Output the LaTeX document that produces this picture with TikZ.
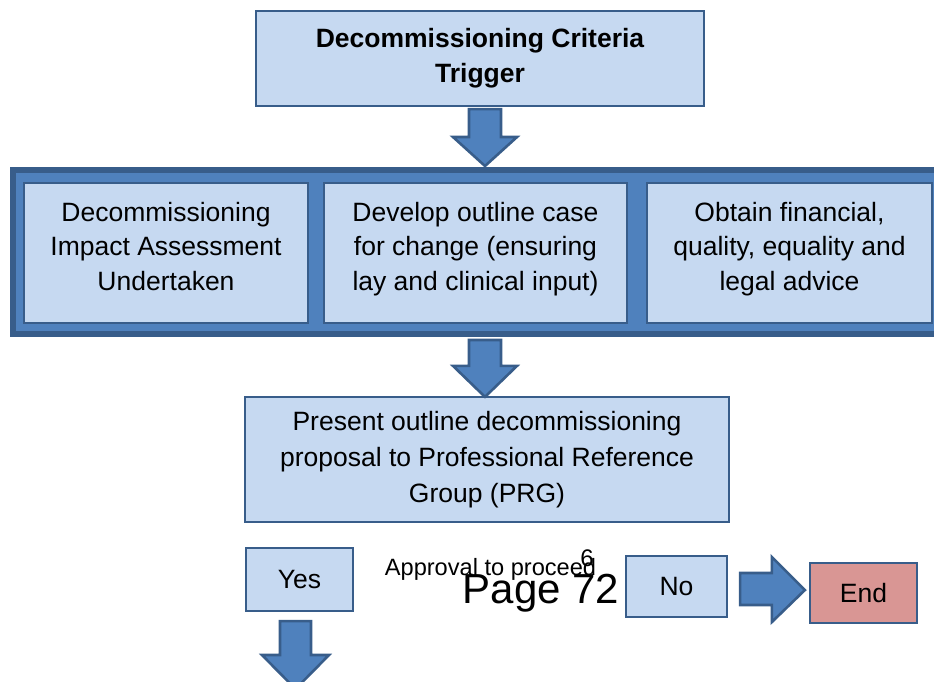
\documentclass[tikz,border=0pt]{standalone}
\usepackage{fontspec}
\setmainfont{Liberation Sans}
\usetikzlibrary{calc}
\definecolor{boxfill}{HTML}{C6D9F1}
\definecolor{boxline}{HTML}{385D8A}
\definecolor{midblue}{HTML}{4F81BD}
\definecolor{endfill}{HTML}{D99694}
\begin{document}
\begin{tikzpicture}[x=1pt,y=-1pt,
  box/.style={draw=boxline, fill=boxfill, line width=2.2pt, rectangle, inner sep=0pt},
  bandbox/.style={draw=boxline, fill=midblue, line width=6pt, rectangle, inner sep=0pt},
  fatarrow/.style={draw=boxline, fill=midblue, line width=2.6pt, line join=miter},
  txt/.style={align=center, inner sep=0pt, font=\fontsize{26.5}{34.5}\selectfont},
  bigtxt/.style={align=center, inner sep=0pt, font=\fontsize{26.5}{35}\selectfont\bfseries},
  midtxt/.style={align=center, inner sep=0pt, font=\fontsize{26.5}{36}\selectfont}]
\useasboundingbox (0,0) rectangle (934,681);

% trigger box
\node[box, bigtxt, minimum width=448, minimum height=95] (top) at (480,58.5)
  {Decommissioning Criteria\\Trigger};

% band holding the three parallel activities
\node[bandbox, minimum width=930, minimum height=164] (stage) at (478,252) {};
\node[box, minimum width=284, minimum height=140] (imp) at (166,253) {};
\node[box, minimum width=303, minimum height=140] (dev) at (475.5,253) {};
\node[box, minimum width=285, minimum height=140] (adv) at (789.5,253) {};
\node[txt] (impt) at (166,246.5) {Decommissioning\\Impact Assessment\\Undertaken};
\node[txt] (devt) at (475.5,249) {Develop outline case\\for change (ensuring\\lay and clinical input)};
\node[txt] (advt) at (789.5,249) {Obtain financial,\\quality, equality and\\legal advice};

% proposal box
\node[box, midtxt, minimum width=484, minimum height=125] (present) at (487,459.5)
  {Present outline decommissioning\\proposal to Professional Reference\\Group (PRG)};

% outcome boxes
\node[box, txt, minimum width=107, minimum height=63] (yes) at (299.5,579.5) {Yes};
\node[box, txt, minimum width=101, minimum height=61] (no) at (676.5,586.5) {No};
\node[box, txt, fill=endfill, minimum width=107, minimum height=60] (end) at (863.5,593) {End};

% loose texts
\node[anchor=base, inner sep=0pt, font=\fontsize{23.6}{23.6}\selectfont] (appr) at (490.5,575) {Approval to proceed};
\node[anchor=base, inner sep=0pt, font=\fontsize{24}{24}\selectfont] (pnum) at (587,566) {6};
\node[anchor=base, inner sep=0pt, font=\fontsize{42}{42}\selectfont] (page) at (541,603) {Page 72};

% block arrows
\draw[fatarrow] let \p1=(top.south), \p2=(stage.north) in
  (\x1-11pt,\y1-2pt) -- (\x1+21pt,\y1-2pt) -- (\x1+21pt,\y2+30pt) -- (\x1+37pt,\y2+30pt)
  -- (\x1+5pt,\y2+1pt) -- (\x1-27pt,\y2+30pt) -- (\x1-11pt,\y2+30pt) -- cycle;
\draw[fatarrow] let \p1=(stage.south), \p2=(present.north) in
  (\x1-9pt,\y1-3pt) -- (\x1+23pt,\y1-3pt) -- (\x1+23pt,\y2+30pt) -- (\x1+39pt,\y2+30pt)
  -- (\x1+7pt,\y2-1pt) -- (\x1-25pt,\y2+30pt) -- (\x1-9pt,\y2+30pt) -- cycle;
\draw[fatarrow] let \p1=(no.east), \p2=(end.west) in
  (\x1+12pt,\y2+20pt) -- (\x2-37pt,\y2+20pt) -- (\x2-37pt,\y2+36pt)
  -- (\x2-4pt,\y2+3pt) -- (\x2-37pt,\y2-29pt) -- (\x2-37pt,\y2-12pt) -- (\x1+12pt,\y2-12pt) -- cycle;
\coordinate (below) at (295.5,689);
\draw[fatarrow] let \p1=(yes.south), \p2=(below) in
  (\x2-15.5pt,\y1-9pt) -- (\x2+15.5pt,\y1-9pt) -- (\x2+15.5pt,\y2+34pt) -- (\x2+33.5pt,\y2+34pt)
  -- (\x2,\y2) -- (\x2-33.5pt,\y2+34pt) -- (\x2-15.5pt,\y2+34pt) -- cycle;
\end{tikzpicture}
\end{document}
